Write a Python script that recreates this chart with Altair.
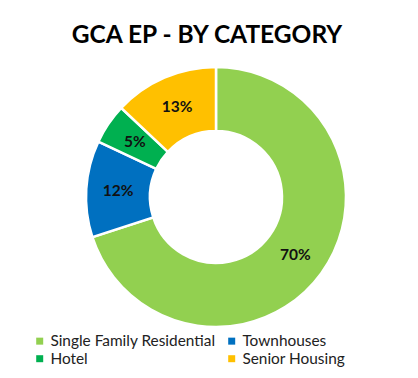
import altair as alt
import pandas as pd

categories = ["Single Family Residential", "Townhouses", "Hotel", "Senior Housing"]
values = [70, 12, 5, 13]
labels = ["70%", "12%", "5%", "13%"]
colors = ["#92D050", "#0070C0", "#00B050", "#FFC000"]
legend_order = ["Single Family Residential", "Hotel", "Townhouses", "Senior Housing"]

df = pd.DataFrame({"category": categories, "value": values, "label": labels,
                   "order": list(range(len(categories)))})

CX, CY = 216, 147
FONT = "Lato"

base = alt.Chart(df).encode(
    theta=alt.Theta("value:Q", stack=True),
    order=alt.Order("order:Q"),
)

color = alt.Color(
    "category:N",
    scale=alt.Scale(domain=categories, range=colors),
    legend=alt.Legend(
        title=None, orient="none", legendX=32, legendY=283, columns=2,
        values=legend_order,
        symbolType="square", symbolSize=49, symbolStrokeWidth=0,
        labelFont=FONT, labelFontSize=15.4, labelColor="#222222", labelLimit=300,
        columnPadding=8, rowPadding=1, labelOffset=3,
    ),
)

arcs = base.mark_arc(innerRadius=66, outerRadius=130, stroke="white", strokeWidth=2.5,
                     x=CX, y=CY).encode(color=color)

text = base.mark_text(radius=98, font=FONT, fontSize=15.5, fontWeight="bold",
                      color="#111111", x=CX, y=CY).encode(text="label:N")

chart = alt.layer(arcs, text).properties(
    width=418, height=328,
    padding={"left": 0, "top": 50, "right": 0, "bottom": 0},
    autosize=alt.AutoSizeParams(type="none"),
    title=alt.TitleParams("GCA EP - BY CATEGORY", font=FONT, fontSize=24.5, fontWeight="bold",
                          color="#000000", anchor="middle", baseline="alphabetic", offset=5,
                          dx=-2, dy=22),
).configure_view(stroke=None)

chart.save("out.html", embed_options={"renderer": "svg", "actions": False})
